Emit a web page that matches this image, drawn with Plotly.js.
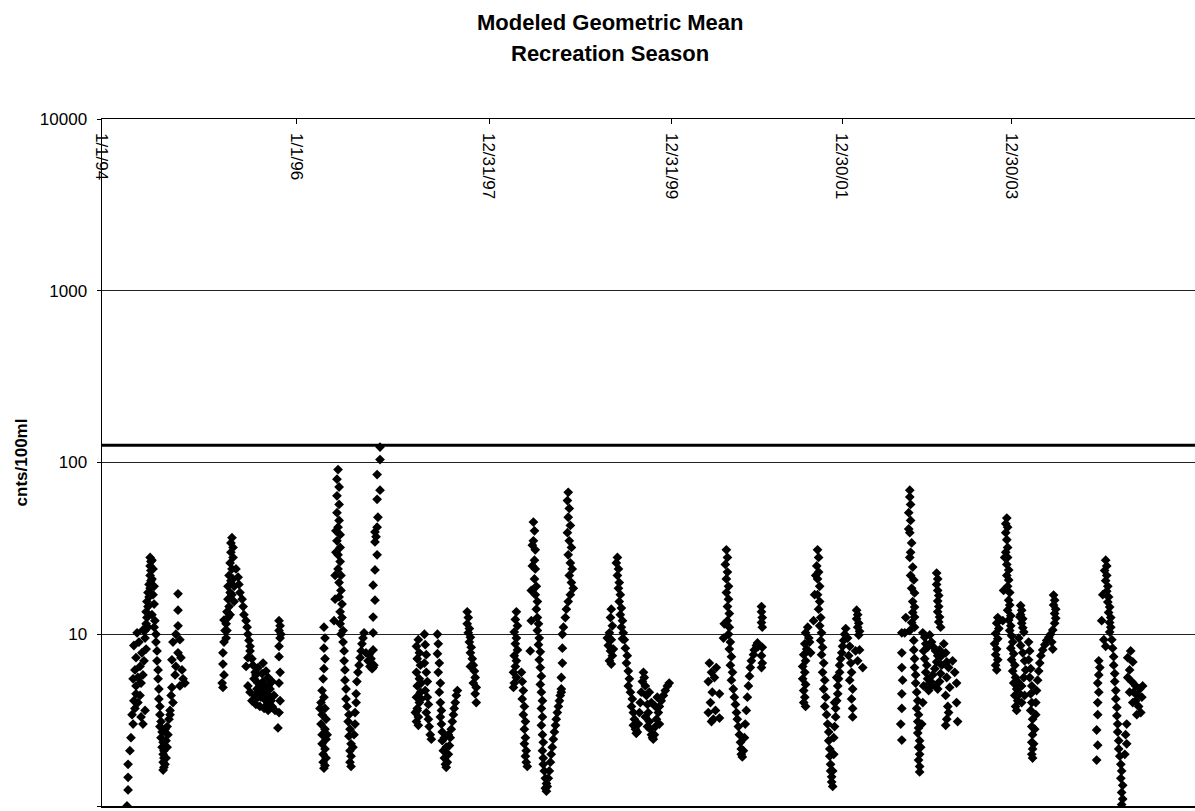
<!DOCTYPE html>
<html>
<head>
<meta charset="utf-8">
<script src="https://cdn.plot.ly/plotly-3.0.1.min.js"></script>
<style>html,body{margin:0;padding:0;background:#fff;}#chart{width:1195px;height:811px;}</style>
</head>
<body>
<div id="chart"></div>
<script>
// Day-of-year positions and modeled geometric means (cnts/100ml), one pair of arrays per season
const doy1994 = [94,98,98,98,105,109,117,113,124,120,135,128,143,128,147,117,135,154,124,143,158,128,150,166,120,139,162,132,154,173,147,162,154,
  162,166,169,166,173,169,177,173,181,177,184,181,184,181,184,181,188,192,188,196,192,196,188,199,196,203,
  203,207,207,211,211,214,214,218,218,222,218,226,222,230,226,233,230,233,230,237,233,230,241,245,248,245,252,256,241,237,
  286,286,286,278,293,267,286,297,263,278,301,275,312,293,263,305,267,256,260];
const val1994 = [1.0,1.24,1.47,1.75,2.1,2.5,3.0,3.4,3.7,4.1,4.0,4.5,4.4,5.0,5.2,5.5,5.6,5.8,6.2,6.5,7.0,7.3,7.8,8.2,8.6,9.0,9.5,10.2,10.6,11.0,3.3,3.6,3.0,
  10.5,11.5,12.5,13.5,14.5,15.5,16.5,17.5,18.5,19.5,20.5,22,23.5,25,26.5,28,27,24,21,19,17,15,13,12,11,10,
  9.0,8.0,7.0,6.2,5.5,4.8,4.2,3.8,3.4,3.1,2.9,2.7,2.5,2.35,2.2,2.1,2.0,1.9,1.8,1.75,1.68,1.62,1.9,2.2,2.6,2.9,3.2,3.6,2.4,2.8,
  17.2,13.8,11.2,10.0,9.3,9.0,7.8,7.3,7.1,6.5,6.2,5.8,5.2,5.0,4.9,5.5,4.0,3.4,4.4];

const doy1995 = [94,98,94,90,90,94,87,90,
  124,120,128,120,128,117,124,113,120,109,117,109,113,105,109,102,105,102,128,132,124,132,117,
  139,147,150,154,162,166,169,177,181,184,188,192,
  192,199,203,211,207,214,222,218,229,237,233,241,248,245,252,260,256,263,267,271,275,260,237,222,211,192,184,199,214,229,245,260,275,282,286,177,184,222,241,252,
  301,305,301,308,305,301,301,305,301,305,301,297];
const val1995 = [12.1,10.5,9.0,7.8,6.7,5.8,5.2,4.9,
  36.5,34,32,30,28,26,24,22,20.5,19,17.5,16,14.5,13.5,12.5,11.5,10.5,9.5,21,19,17,15.5,13,
  24,21.5,19.5,17.5,16,14.5,13,12,11,10,9.2,8.5,
  8.0,7.2,6.6,6.0,5.5,5.8,5.2,4.8,5.0,4.6,4.3,5.3,4.9,4.2,4.5,5.0,3.9,4.4,4.8,4.1,5.3,5.6,5.9,4.3,4.4,4.6,5.0,4.1,3.9,3.8,3.7,3.6,3.8,4.4,3.6,6.5,7.3,6.4,6.8,6.1,
  12,11.2,10.5,10,9.5,8.5,7.4,6.0,5.2,4.1,3.5,2.85];

const doy1996 = [105,109,105,109,105,102,98,105,94,109,98,113,94,109,98,113,98,109,102,113,102,109,105,117,90,
  143,147,147,150,150,
  158,154,162,154,162,154,162,158,166,154,166,158,166,158,169,162,169,162,173,166,173,166,177,169,
  177,181,181,184,184,188,188,192,199,196,203,199,207,203,207,203,207,214,218,222,222,226,
  226,229,233,237,241,245,248,252,256,263,271,278,286,293,275,282,
  290,290,290,290,297,290,297,305,297,301,297,305,308,305,316,305,316,316];
const val1996 = [11,9.5,8.3,7.2,6.3,5.5,4.7,4.3,4.0,3.7,3.4,3.2,3.0,2.8,2.6,2.45,2.3,2.15,2.0,1.9,1.8,1.72,1.66,2.6,3.7,
  12,16,22,30,40,
  91,80,72,64,57,51,46,42,38,35,32,29,26.5,24,22,20,18,16.5,15,13.5,12.5,11.5,10.5,10,
  9,8,7,6.2,5.4,4.8,4.2,3.8,3.4,3.1,2.8,2.55,2.3,2.1,1.95,1.8,1.7,2.2,2.6,3.0,3.5,4.0,
  4.5,5.3,6.0,6.6,7.3,8.0,8.8,9.5,10.2,7.8,7.0,6.5,6.3,6.6,7.6,7.2,
  6.4,8.1,10.2,12.6,15.8,19.3,23.7,29,34.5,37,39.4,42,48,61,69,85,104,123];

const doy1997 = [94,87,98,90,102,87,98,90,102,87,98,90,83,94,87,94,90,105,105,
  117,120,124,117,124,128,120,128,132,124,132,135,139,143,
  166,169,166,173,169,177,173,177,181,177,181,184,
  184,188,192,196,199,203,207,211,214,218,222,226,229,233,237,241,199,192,207,
  278,282,278,286,282,290,286,293,290,297,301,305,308,301,312,308,312,290];
const val1997 = [9.3,8.5,7.8,7.2,6.6,6.0,5.5,5.0,4.6,4.3,4.0,3.7,3.5,3.3,3.1,2.95,3.6,5.2,4.2,
  10,8.7,7.6,6.8,6.0,5.3,4.7,4.3,3.9,3.5,3.2,2.9,2.6,2.45,
  10,8.8,7.7,6.8,6.0,5.2,4.6,4.0,3.6,3.3,3.0,2.7,
  2.4,2.1,1.9,1.75,1.68,1.8,2.0,2.25,2.5,2.8,3.1,3.4,3.7,4.0,4.4,4.7,2.2,2.5,2.6,
  13.5,12.5,11.5,10.8,10.2,9.6,9.0,8.4,7.8,7.2,6.6,6.1,5.6,5.2,4.9,4.5,4.0,6.5];

const doy1998 = [98,94,102,90,98,94,102,90,98,94,87,98,90,87,
  117,120,124,120,128,124,132,128,132,128,135,132,135,139,
  150,154,154,158,158,
  162,166,162,169,166,169,166,173,169,177,173,177,181,177,184,181,188,184,188,192,188,192,196,192,196,192,196,199,196,199,199,
  203,207,211,207,211,214,218,
  222,226,229,233,237,241,245,248,252,256,260,263,267,
  293,290,297,293,301,290,297,305,293,301,308,297,305,312,301,293,286,282,275,271,271,271,267,267];
const val1998 = [13.5,12.2,11.2,10.3,9.5,8.8,8.1,7.5,7.0,6.5,6.0,5.6,5.2,4.9,
  6.0,5.3,4.7,4.2,3.8,3.4,3.1,2.8,2.5,2.3,2.1,1.95,1.8,1.7,
  8,12,18,25,33,
  45,40,35,31,27,24,21,19,17,15.5,14,12.5,11.5,10.5,9.5,8.7,7.9,7.1,6.4,5.7,5.1,4.6,4.1,3.7,3.3,2.95,2.6,2.35,2.1,1.9,1.75,
  1.6,1.45,1.35,1.27,1.22,1.3,1.45,
  1.6,1.8,2.0,2.2,2.45,2.7,2.95,3.2,3.5,3.8,4.1,4.4,4.8,
  67,60,54,48,43,39,35,32,29,26,24,22,20,18.5,17,15.5,14,12.5,11,10,8.3,6.8,5.6,4.6];

const doy1999 = [90,87,94,83,90,79,87,94,83,90,98,75,
  113,109,117,113,120,117,124,120,128,124,132,128,135,132,
  139,143,150,147,154,158,154,162,169,166,173,177,173,181,184,
  188,192,196,199,203,207,211,214,218,222,226,229,233,237,241,245,248,252,256,260,267,271,278,286,293,301,308,218,226,233,241,256,263,271];
const val1999 = [14,12.5,11.2,10.2,9.3,8.6,8.0,7.5,7.0,6.7,8.2,9.5,
  28,26,24,22,20,18.5,17,15.5,14.2,13,12,11,10.2,9.4,
  9.3,8.3,7.5,6.8,6.1,5.5,5.0,4.6,4.2,3.8,3.5,3.2,2.95,2.8,2.65,
  2.7,3.0,3.5,4.0,4.6,5.3,6.0,5.6,5.0,4.4,3.9,3.5,3.1,2.8,2.6,2.5,2.45,2.6,2.9,3.2,3.5,3.8,4.1,4.4,4.7,5.0,5.2,3.3,2.9,4.6,4.0,3.8,4.3,3.0];

const doy2000 = [94,102,90,105,98,90,109,117,113,120,102,132,132,
  158,162,154,162,158,166,158,166,162,169,162,169,166,173,169,177,173,181,177,184,150,147,
  188,192,196,199,203,207,211,214,214,218,
  222,226,229,233,237,241,245,248,252,260,263,271,275,278,
  290,290,293,290,293,293,290,293,290];
const val2000 = [6.8,6.0,5.3,4.6,4.0,3.5,3.2,3.6,5.6,6.4,3.1,4.5,3.25,
  31,28,25.5,23,21,19,17.5,16,14.5,13.2,12,11,10,9,8.2,7.4,6.6,6,5.4,4.8,11.5,9.5,
  4.3,3.9,3.5,3.2,2.9,2.6,2.35,2.15,2.0,1.93,
  2.1,2.5,3.0,3.6,4.3,5.0,5.7,6.4,7.0,7.6,8.1,8.6,8.9,8.5,
  14.5,13.5,12.5,11.7,11,8.4,7.5,6.8,6.4];

const doy2001 = [98,90,102,87,94,83,90,79,87,79,90,83,87,83,90,105,109,
  120,124,128,
  135,139,132,139,135,143,135,143,139,147,143,150,147,154,150,158,154,162,158,166,162,169,
  173,177,177,181,181,184,184,188,188,192,
  192,196,196,199,203,203,207,211,211,214,218,218,222,226,229,233,237,241,199,207,
  248,256,252,260,263,256,267,263,267,267,278,286,293,305,
  282,286,282,290,286,293,290];
const val2001 = [11,10.2,9.5,8.8,8.2,7.6,7.0,6.5,6.0,5.5,5.1,4.7,4.3,4.0,3.8,9.0,7.8,
  12,17,22,
  31,28,25,23,21,19,17,15.5,14,12.5,11.2,10.2,9.2,8.4,7.6,6.8,6.0,5.4,4.8,4.3,3.8,3.4,
  3.0,2.7,2.4,2.15,1.95,1.75,1.6,1.48,1.38,1.3,
  1.6,2.0,2.5,2.9,3.3,3.7,4.1,4.5,5.0,5.5,6.0,6.6,7.2,7.8,8.5,9.2,10,10.8,4.0,5.6,
  9.5,8.5,7.5,6.8,6.0,5.4,4.8,4.2,3.7,3.3,8.0,7.0,8.1,6.4,
  13.8,13,12.3,11.6,11,10.4,9.9];

const doy2002 = [87,87,87,90,87,87,83,87,
  117,117,120,113,120,113,117,124,120,117,128,120,132,124,135,128,135,128,135,124,135,117,102,98,
  132,132,135,135,139,139,143,147,143,150,147,150,147,154,150,154,150,154,154,158,162,166,169,
  173,177,169,173,181,177,184,181,188,192,196,203,211,218,222,229,233,237,233,229,222,214,192,199,207,214,184,166,
  218,222,218,222,226,222,226,222,229,226,233,
  245,252,256,263,293,256,267,252,293,260,263,256,297,252,286,278];
const val2002 = [10.2,7.8,6.4,5.4,4.5,3.7,3.0,2.42,
  69,63,57,51,46,41,39,34,30,28,24.6,22,20.7,18.5,17.4,15.5,14.4,13.4,12.6,11.7,11,10.5,12.5,10.2,
  9.2,8.1,7.2,6.4,5.8,5.2,4.6,4.1,3.7,3.4,3.1,2.85,2.66,2.4,2.2,2.0,1.85,1.7,1.58,2.2,3.0,4.0,5.0,
  9.6,8.8,8.0,7.2,6.6,6.0,5.5,5.0,4.7,4.9,5.3,5.8,6.3,6.9,7.5,8.1,7.4,6.6,5.9,5.3,4.8,5.0,9.9,9.0,8.4,8.0,8.4,10.2,
  22.7,21,19.5,18,16.8,15.6,14.5,13.5,12.6,11.8,11,
  8.8,7.8,6.9,6.4,5.2,5.6,4.9,4.4,4.0,3.8,3.5,3.2,3.1,2.95,6.0,7.0];

const doy2003 = [83,79,87,75,83,71,79,75,83,75,79,
  102,105,109,
  117,113,120,113,117,120,113,120,117,124,117,124,120,128,124,128,120,132,124,132,128,
  135,139,132,143,135,147,139,150,143,154,147,158,150,154,166,173,181,188,184,177,169,162,173,184,158,
  169,173,169,177,173,177,181,166,
  199,203,199,207,203,211,207,211,207,214,211,214,211,214,211,214,
  218,222,226,226,229,233,237,241,245,252,260,267,275,282,290,286,290,
  293,297,293,301,297,301,297];
const val2003 = [12.5,11.6,10.8,10.1,9.4,8.8,8.2,7.6,7.1,6.6,6.2,
  12,18,28,
  47.5,44,42,39,35.5,32,30,28,25.5,23.7,22,20.7,19,17.5,15.8,14.8,13.8,12.8,12.1,11.2,10.5,
  9.8,9.0,8.3,7.7,7.1,6.6,6.1,5.6,5.2,4.8,4.4,4.1,3.8,3.6,4.5,5.0,5.6,6.2,7.0,7.8,8.6,9.5,4.0,4.4,5.3,
  14.7,13.8,13,12.3,11.6,10.9,10.3,12.6,
  9.0,8.0,7.1,6.3,5.6,5.0,4.5,4.0,3.6,3.2,2.9,2.6,2.35,2.15,2.0,1.9,
  2.3,2.8,3.4,4.0,4.7,5.4,6.1,6.8,7.5,8.1,8.7,9.2,9.6,10,10.6,9.0,8.2,
  16.9,15.8,14.8,14,13.2,12.4,11.6];

const doy2004 = [98,102,98,94,98,94,94,90,94,90,
  109,113,
  124,128,120,128,124,132,128,135,132,139,135,143,139,143,139,117,124,
  147,150,154,154,158,158,162,162,166,166,169,169,173,173,177,181,184,181,188,184,188,184,
  218,207,226,214,207,222,237,229,245,252,237,260,248,256,241,226,214,263,203,199,203,196];
const val2004 = [7.0,6.4,5.8,5.2,4.6,4.0,3.4,2.77,2.26,1.85,
  12,17,
  27,25,23.5,22,20.5,19,17.8,16.5,15.4,14.4,13.4,12.5,11.7,11,10.3,9.3,8.5,
  9.3,8.3,7.4,6.6,5.9,5.3,4.7,4.2,3.75,3.35,3.0,2.7,2.4,2.15,1.95,1.75,1.6,1.45,1.32,1.2,1.1,1.02,
  8.0,7.3,6.9,6.2,5.6,5.3,5.0,4.6,4.4,4.8,4.1,4.3,3.8,3.5,3.4,4.0,4.6,5.0,3.0,2.6,2.3,2.0];

const seasonYears = [1994,1995,1996,1997,1998,1999,2000,2001,2002,2003,2004];
const seasonDoy = [doy1994,doy1995,doy1996,doy1997,doy1998,doy1999,doy2000,doy2001,doy2002,doy2003,doy2004];
const seasonVal = [val1994,val1995,val1996,val1997,val1998,val1999,val2000,val2001,val2002,val2003,val2004];

// category (row) positions of the axis labels, as printed on the chart
const tickRows = [0, 730, 1456, 2144, 2784, 3423];
const tickLabels = ['1/1/94','1/1/96','12/31/97','12/31/99','12/30/01','12/30/03'];
const yTicks = [1, 10, 100, 1000, 10000];
const threshold = 126;
const rowRange = [0, 4112];

function yearOffset(y) {
  return Math.round((Date.UTC(y, 0, 1) - Date.UTC(1994, 0, 1)) / 86400000);
}

const traces = seasonYears.map((yr, k) => ({
  type: 'scatter',
  mode: 'markers',
  x: seasonDoy[k].map(d => yearOffset(yr) + d),
  y: seasonVal[k],
  marker: {symbol: 'diamond', size: 7.5, color: '#000', line: {width: 0}},
  showlegend: false,
  hoverinfo: 'x+y'
}));

const FONT = 'Arial, "Liberation Sans", sans-serif';

const layout = {
  width: 1195,
  height: 811,
  margin: {l: 102, r: 0, t: 119, b: 5, pad: 0},
  paper_bgcolor: '#fff',
  plot_bgcolor: '#fff',
  font: {family: FONT, color: '#000'},
  annotations: [
    {text: '<b>Modeled Geometric Mean</b>', xref: 'paper', yref: 'paper', x: (610 - 102) / 1093, y: 1 + (119 - 22) / 687,
     xanchor: 'center', yanchor: 'middle', showarrow: false, font: {family: FONT, size: 22, color: '#000'}},
    {text: '<b>Recreation Season</b>', xref: 'paper', yref: 'paper', x: (610 - 102) / 1093, y: 1 + (119 - 53) / 687,
     xanchor: 'center', yanchor: 'middle', showarrow: false, font: {family: FONT, size: 22, color: '#000'}}
  ],
  xaxis: {
    range: rowRange,
    side: 'top',
    showline: true, linecolor: '#000', linewidth: 1.5, mirror: true,
    showgrid: false, zeroline: false,
    ticks: 'inside', ticklen: 5, tickcolor: '#000',
    tickmode: 'array', tickvals: tickRows, ticktext: tickLabels,
    tickangle: 90,
    ticklabelposition: 'inside',
    ticklabeloverflow: 'allow',
    tickfont: {family: FONT, size: 17, color: '#000'}
  },
  yaxis: {
    type: 'log',
    range: [0, 4],
    tickmode: 'array', tickvals: yTicks, ticktext: yTicks.map(String),
    showgrid: true, gridcolor: '#222', gridwidth: 1.2,
    showline: true, linecolor: '#000', linewidth: 1.5,
    zeroline: false,
    ticks: 'outside', ticklen: 4, tickcolor: '#000',
    ticklabelstandoff: 6,
    tickfont: {family: FONT, size: 17, color: '#000'},
    title: {text: '<b>cnts/100ml</b>', font: {family: FONT, size: 17, color: '#000'}, standoff: 8}
  },
  shapes: [{
    type: 'line', xref: 'paper', x0: 0, x1: 1, yref: 'y', y0: threshold, y1: threshold,
    line: {color: '#000', width: 3}
  }]
};

Plotly.newPlot('chart', traces, layout, {staticPlot: true, displayModeBar: false});
</script>
</body>
</html>
